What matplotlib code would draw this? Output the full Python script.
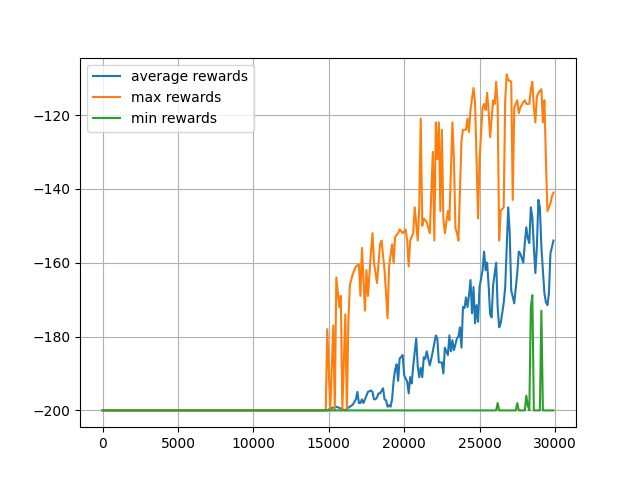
import matplotlib
matplotlib.use("Agg")
from matplotlib import pyplot as plt

# episodios y recompensas
ep_avg = [0, 14900, 15100, 15500, 15800, 16100, 16200, 16400, 16600, 16800, 16900, 17000,
          17100, 17200, 17300, 17600, 17800, 17900, 18000, 18100, 18200, 18300,
          18400, 18600, 18700, 18800, 18900, 19000, 19100, 19200, 19300, 19400,
          19500, 19600, 19700, 19900, 20000, 20200, 20300, 20400, 20500, 20600,
          20800, 20900, 21000, 21100, 21200, 21300, 21400, 21500, 21600, 21700,
          21800, 21900, 22100, 22200, 22300, 22500, 22600, 22700, 22900, 23000,
          23100, 23200, 23300, 23500, 23600, 23700, 23800, 23900, 24000, 24100,
          24200, 24300, 24400, 24500, 24600, 24700, 24800, 24900, 25000, 25200,
          25300, 25400, 25500, 25600, 25700, 25800, 25900, 26100, 26200, 26300,
          26400, 26600, 26700, 26800, 26900, 27000, 27100, 27300, 27500, 27600,
          27700, 27900, 28000, 28100, 28200, 28300, 28400, 28500, 28600, 28700,
          28800, 28900, 29000, 29100, 29300, 29400, 29500, 29600, 29700, 29900]
avg_rewards = [-200, -200, -199.5, -199, -199.5, -200, -199.5, -199, -198.4, -197, -195, -198,
               -198, -197, -198, -195, -194.6, -195, -197, -197, -196.5, -195.4,
               -195.4, -194, -197, -197.3, -199, -198.6, -199, -197, -192, -189,
               -187.5, -192, -186, -185, -190.5, -192.2, -195.4, -191, -192.7, -188,
               -180.5, -188, -191, -188.5, -191, -185.6, -186, -184, -186, -187.8,
               -186, -184, -179.7, -180.5, -187, -187, -190, -183, -185, -179.7,
               -184, -181, -183.7, -180.5, -180, -177.5, -183, -172, -172.3, -169.4,
               -172, -168.8, -164.7, -173.7, -166.6, -176.4, -171.5, -176, -166.6, -162,
               -157, -162, -160, -166, -174, -174.8, -166, -160, -172, -177.5,
               -176.4, -171, -166.6, -155.8, -145, -152, -167.5, -171, -162.8, -157,
               -157.5, -160, -154.7, -150.4, -153.4, -154.7, -145, -147.7, -155.8, -162.8,
               -155.8, -143, -145, -155.8, -168.3, -170.7, -171.5, -168.3, -157.5, -154]

ep_max = [0, 14800, 14900, 15100, 15300, 15400, 15500, 15700, 15800, 15900, 16100,
          16200, 16300, 16400, 16600, 16800, 17000, 17100, 17200, 17400, 17500,
          17600, 17800, 17900, 18000, 18200, 18400, 18500, 18700, 18900, 19000,
          19200, 19300, 19400, 19600, 19700, 19900, 20100, 20200, 20300, 20400,
          20600, 20700, 20900, 21000, 21100, 21200, 21300, 21500, 21700, 21900,
          22000, 22100, 22200, 22300, 22400, 22500, 22600, 22700, 22900, 23000,
          23200, 23300, 23400, 23500, 23600, 23800, 23900, 24100, 24200, 24300,
          24400, 24600, 24700, 24800, 24900, 25000, 25200, 25300, 25400, 25500,
          25600, 25700, 25900, 26000, 26100, 26200, 26300, 26400, 26600, 26700,
          26800, 26900, 27100, 27200, 27300, 27500, 27600, 27700, 27900, 28000,
          28100, 28300, 28400, 28500, 28600, 28700, 28800, 28900, 29100, 29200,
          29300, 29400, 29500, 29700, 29800, 29900]
max_rewards = [-200, -200, -178, -200, -177, -200, -164, -172, -169, -200, -174,
               -200, -176, -166, -163, -161, -160.5, -169, -156, -173, -162,
               -169, -157, -152, -160, -165.5, -155, -154, -162, -175, -161,
               -155, -160, -153, -152, -151, -152, -151, -154, -161, -154,
               -152, -145, -154, -145, -121, -150, -148, -149, -152, -130,
               -154, -122, -132, -122, -146, -124, -148, -152, -146, -148.5,
               -122, -132, -150.6, -152, -154, -127, -124, -124, -121, -124.6,
               -118.6, -112.7, -116.5, -132, -148, -132, -118, -117, -118.6, -114,
               -119, -126, -116, -117, -111, -117, -154, -146, -145, -116,
               -109, -110.5, -111, -143, -118, -116, -119.5, -118, -116.5, -116,
               -117, -117, -113, -111, -118, -122, -115, -114, -113, -122,
               -116, -132, -146, -144, -142, -141]

ep_min = [0, 26100, 26200, 26300, 27400, 27500, 27600, 28000, 28100, 28200, 28300,
          28400, 28500, 28600, 29000, 29100, 29200, 29900]
min_rewards = [-200, -200, -198, -200, -200, -198, -200, -200, -196, -198.8, -200,
               -172, -168.8, -200, -200, -173, -200, -200]

plt.figure(figsize=(6.4, 4.8), dpi=100)
plt.plot(ep_avg, avg_rewards, label="average rewards")
plt.plot(ep_max, max_rewards, label="max rewards")
plt.plot(ep_min, min_rewards, label="min rewards")
plt.legend(loc="upper left")
plt.grid(True)
plt.savefig("out.png")
